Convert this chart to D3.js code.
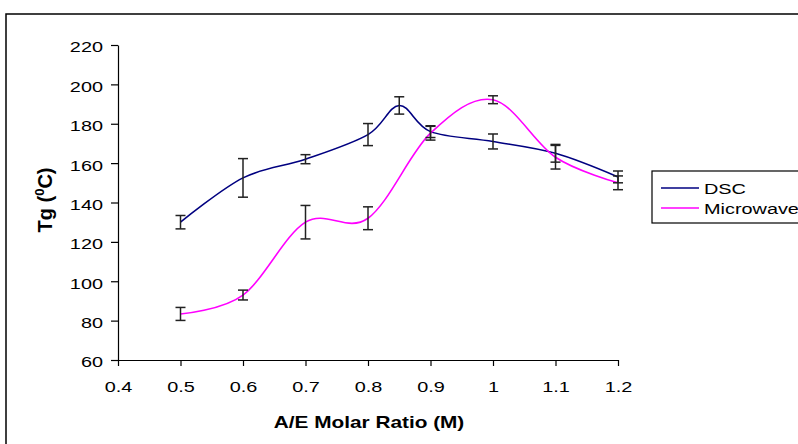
<!DOCTYPE html>
<html>
<head>
<meta charset="utf-8">
<script src="https://cdn.jsdelivr.net/npm/d3@7"></script>
<style>
  body { margin: 0; background: #fff; }
  text { font-family: "Liberation Sans", Arial, sans-serif; }
</style>
</head>
<body>
<script>
// data
let dscX = [0.5, 0.6, 0.7, 0.8, 0.85, 0.9, 1.0, 1.1, 1.2];
let dscTg = [130, 152.5, 162, 174.5, 189.3, 176, 171, 165, 153];
let dscErr = [3.4, 9.8, 2.3, 5.6, 4.4, 3, 3.8, 4.5, 3];

let mwX = [0.5, 0.6, 0.7, 0.8, 0.9, 1.0, 1.1, 1.2];
let mwTg = [83.4, 93, 130, 132, 175.2, 192.2, 163, 150];
let mwErr = [3.3, 2.5, 8.5, 5.8, 3.5, 2, 6, 3.5];

let xTicks = [0.4, 0.5, 0.6, 0.7, 0.8, 0.9, 1, 1.1, 1.2];
let yTicks = [60, 80, 100, 120, 140, 160, 180, 200, 220];

let seriesNames = ["DSC", "Microwave"];
let seriesColors = ["#000080", "#ff00ff"];

// the reference text is drawn a bit wider than plain Arial
let textStretch = 1.29;

function stretch(sel, sx) {
    sel.each(function() {
        let t = d3.select(this);
        let tx = +t.attr("x") || 0;
        let ty = +t.attr("y") || 0;
        t.attr("x", 0).attr("y", 0)
            .attr("transform", "translate(" + tx + "," + ty + ") scale(" + sx + ",1)");
    });
}

window.onload = function() {
    let width = 798;
    let height = 444;

    let svg = d3.select("body")
        .append("svg")
        .attr("width", width)
        .attr("height", height);

    // outer chart frame (runs off the right and bottom edges)
    svg.append("rect")
        .attr("x", 6)
        .attr("y", 14)
        .attr("width", 820)
        .attr("height", 460)
        .style("fill", "none")
        .style("stroke", "#000")
        .style("stroke-width", 1.5);

    let x = d3.scaleLinear().domain([0.4, 1.2]).range([118, 618]);
    let y = d3.scaleLinear().domain([60, 220]).range([360, 45]);

    // axes
    let xAxis = svg.append("g")
        .attr("transform", "translate(0," + y(60) + ")")
        .call(d3.axisBottom(x).tickValues(xTicks).tickFormat(d3.format("")).tickSizeInner(6).tickSizeOuter(0).tickPadding(15));

    let yAxis = svg.append("g")
        .attr("transform", "translate(" + x(0.4) + ",0)")
        .call(d3.axisLeft(y).tickValues(yTicks).tickSizeInner(7).tickSizeOuter(0).tickPadding(8));

    yAxis.selectAll("text").attr("dy", "0.45em");

    [xAxis, yAxis].forEach(function(a) {
        a.selectAll("text").style("font-size", "15.4px").style("fill", "#000")
            .style("font-family", "'Liberation Sans', Arial, sans-serif");
        a.selectAll("line, path").style("stroke", "#000").style("stroke-width", 1.2);
        stretch(a.selectAll("text"), textStretch);
    });

    // axis titles
    svg.append("text")
        .attr("x", 369)
        .attr("y", 428)
        .attr("text-anchor", "middle")
        .style("font-size", "16px")
        .style("font-weight", "bold")
        .text("A/E Molar Ratio (M)")
        .call(stretch, 1.3);

    let yTitle = svg.append("text")
        .attr("transform", "translate(52,200) rotate(-90)")
        .attr("text-anchor", "middle")
        .style("font-size", "20px")
        .style("font-weight", "bold");
    yTitle.append("tspan").text("Tg (");
    yTitle.append("tspan").attr("dy", -8).style("font-size", "13px").text("0");
    yTitle.append("tspan").attr("dy", 8).text("C)");

    let line = d3.line()
        .x(d => x(d[0]))
        .y(d => y(d[1]))
        .curve(d3.curveCardinal.tension(0));

    let series = [
        { x: dscX, v: dscTg, e: dscErr },
        { x: mwX, v: mwTg, e: mwErr }
    ];

    series.forEach(function(s, i) {
        let pts = s.x.map((xv, j) => [xv, s.v[j]]);
        svg.append("path")
            .attr("d", line(pts))
            .style("fill", "none")
            .style("stroke", seriesColors[i])
            .style("stroke-width", 1.6);
    });

    // error bars
    series.forEach(function(s) {
        let g = svg.append("g").style("stroke", "#222").style("stroke-width", 1.5);
        s.x.forEach(function(xv, j) {
            let cx = x(xv);
            let top = y(s.v[j] + s.e[j]);
            let bot = y(s.v[j] - s.e[j]);
            g.append("line").attr("x1", cx).attr("x2", cx).attr("y1", top).attr("y2", bot);
            g.append("line").attr("x1", cx - 5).attr("x2", cx + 5).attr("y1", top).attr("y2", top);
            g.append("line").attr("x1", cx - 5).attr("x2", cx + 5).attr("y1", bot).attr("y2", bot);
        });
    });

    // legend
    let legend = svg.append("g");
    legend.append("rect")
        .attr("x", 652)
        .attr("y", 171)
        .attr("width", 170)
        .attr("height", 52)
        .style("fill", "#fff")
        .style("stroke", "#000")
        .style("stroke-width", 1.2);

    seriesNames.forEach(function(name, i) {
        let ly = 188 + i * 20;
        legend.append("line")
            .attr("x1", 661).attr("x2", 699)
            .attr("y1", ly).attr("y2", ly)
            .style("stroke", seriesColors[i])
            .style("stroke-width", 1.5);
        legend.append("text")
            .attr("x", 704)
            .attr("y", ly + 5.5)
            .style("font-size", "15.4px")
            .text(name)
            .call(stretch, textStretch);
    });
};
</script>
</body>
</html>
